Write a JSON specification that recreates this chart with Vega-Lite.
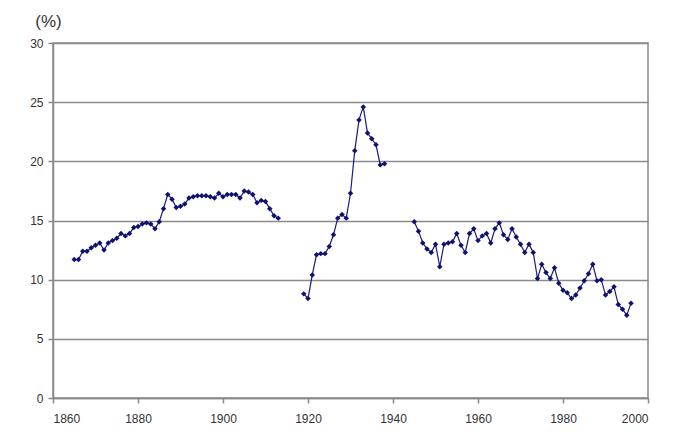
{
  "$schema": "https://vega.github.io/schema/vega-lite/v6.json",
  "autosize": {"type": "none"},
  "width": 595,
  "height": 355,
  "padding": {"left": 53, "top": 43, "right": 26, "bottom": 38},
  "background": "white",
  "config": {
    "view": {"stroke": "#8a8a8a", "strokeWidth": 1.5},
    "font": "Liberation Sans"
  },
  "datasets": {
    "d": [
      {"year":1865,"v":11.7,"seg":1},{"year":1866,"v":11.7,"seg":1},{"year":1867,"v":12.4,"seg":1},{"year":1868,"v":12.4,"seg":1},{"year":1869,"v":12.7,"seg":1},{"year":1870,"v":12.9,"seg":1},{"year":1871,"v":13.1,"seg":1},{"year":1872,"v":12.5,"seg":1},{"year":1873,"v":13.1,"seg":1},{"year":1874,"v":13.3,"seg":1},{"year":1875,"v":13.5,"seg":1},{"year":1876,"v":13.9,"seg":1},{"year":1877,"v":13.7,"seg":1},{"year":1878,"v":13.9,"seg":1},{"year":1879,"v":14.4,"seg":1},{"year":1880,"v":14.5,"seg":1},{"year":1881,"v":14.7,"seg":1},{"year":1882,"v":14.8,"seg":1},{"year":1883,"v":14.7,"seg":1},{"year":1884,"v":14.3,"seg":1},{"year":1885,"v":14.9,"seg":1},{"year":1886,"v":16.0,"seg":1},{"year":1887,"v":17.2,"seg":1},{"year":1888,"v":16.8,"seg":1},{"year":1889,"v":16.1,"seg":1},{"year":1890,"v":16.2,"seg":1},{"year":1891,"v":16.4,"seg":1},{"year":1892,"v":16.9,"seg":1},{"year":1893,"v":17.0,"seg":1},{"year":1894,"v":17.1,"seg":1},{"year":1895,"v":17.1,"seg":1},{"year":1896,"v":17.1,"seg":1},{"year":1897,"v":17.0,"seg":1},{"year":1898,"v":16.9,"seg":1},{"year":1899,"v":17.3,"seg":1},{"year":1900,"v":17.0,"seg":1},{"year":1901,"v":17.2,"seg":1},{"year":1902,"v":17.2,"seg":1},{"year":1903,"v":17.2,"seg":1},{"year":1904,"v":16.9,"seg":1},{"year":1905,"v":17.5,"seg":1},{"year":1906,"v":17.4,"seg":1},{"year":1907,"v":17.2,"seg":1},{"year":1908,"v":16.5,"seg":1},{"year":1909,"v":16.7,"seg":1},{"year":1910,"v":16.6,"seg":1},{"year":1911,"v":16.0,"seg":1},{"year":1912,"v":15.4,"seg":1},{"year":1913,"v":15.2,"seg":1},
      {"year":1919,"v":8.8,"seg":2},{"year":1920,"v":8.4,"seg":2},{"year":1921,"v":10.4,"seg":2},{"year":1922,"v":12.1,"seg":2},{"year":1923,"v":12.2,"seg":2},{"year":1924,"v":12.2,"seg":2},{"year":1925,"v":12.8,"seg":2},{"year":1926,"v":13.8,"seg":2},{"year":1927,"v":15.2,"seg":2},{"year":1928,"v":15.5,"seg":2},{"year":1929,"v":15.2,"seg":2},{"year":1930,"v":17.3,"seg":2},{"year":1931,"v":20.9,"seg":2},{"year":1932,"v":23.5,"seg":2},{"year":1933,"v":24.6,"seg":2},{"year":1934,"v":22.4,"seg":2},{"year":1935,"v":21.9,"seg":2},{"year":1936,"v":21.4,"seg":2},{"year":1937,"v":19.7,"seg":2},{"year":1938,"v":19.8,"seg":2},
      {"year":1945,"v":14.9,"seg":3},{"year":1946,"v":14.1,"seg":3},{"year":1947,"v":13.1,"seg":3},{"year":1948,"v":12.6,"seg":3},{"year":1949,"v":12.3,"seg":3},{"year":1950,"v":13.0,"seg":3},{"year":1951,"v":11.1,"seg":3},{"year":1952,"v":13.0,"seg":3},{"year":1953,"v":13.1,"seg":3},{"year":1954,"v":13.2,"seg":3},{"year":1955,"v":13.9,"seg":3},{"year":1956,"v":12.9,"seg":3},{"year":1957,"v":12.3,"seg":3},{"year":1958,"v":13.9,"seg":3},{"year":1959,"v":14.3,"seg":3},{"year":1960,"v":13.3,"seg":3},{"year":1961,"v":13.7,"seg":3},{"year":1962,"v":13.9,"seg":3},{"year":1963,"v":13.1,"seg":3},{"year":1964,"v":14.3,"seg":3},{"year":1965,"v":14.8,"seg":3},{"year":1966,"v":13.8,"seg":3},{"year":1967,"v":13.4,"seg":3},{"year":1968,"v":14.3,"seg":3},{"year":1969,"v":13.6,"seg":3},{"year":1970,"v":13.0,"seg":3},{"year":1971,"v":12.3,"seg":3},{"year":1972,"v":13.0,"seg":3},{"year":1973,"v":12.3,"seg":3},{"year":1974,"v":10.1,"seg":3},{"year":1975,"v":11.3,"seg":3},{"year":1976,"v":10.6,"seg":3},{"year":1977,"v":10.1,"seg":3},{"year":1978,"v":11.0,"seg":3},{"year":1979,"v":9.7,"seg":3},{"year":1980,"v":9.1,"seg":3},{"year":1981,"v":8.9,"seg":3},{"year":1982,"v":8.4,"seg":3},{"year":1983,"v":8.7,"seg":3},{"year":1984,"v":9.3,"seg":3},{"year":1985,"v":9.9,"seg":3},{"year":1986,"v":10.5,"seg":3},{"year":1987,"v":11.3,"seg":3},{"year":1988,"v":9.9,"seg":3},{"year":1989,"v":10.0,"seg":3},{"year":1990,"v":8.7,"seg":3},{"year":1991,"v":9.0,"seg":3},{"year":1992,"v":9.4,"seg":3},{"year":1993,"v":7.9,"seg":3},{"year":1994,"v":7.5,"seg":3},{"year":1995,"v":7.0,"seg":3},{"year":1996,"v":8.0,"seg":3}
    ]
  },
  "data": {"name": "d"},
  "encoding": {
    "x": {
      "field": "year", "type": "quantitative",
      "scale": {"domain": [1860, 2000], "nice": false, "zero": false},
      "axis": {
        "values": [1860, 1880, 1900, 1920, 1940, 1960, 1980, 2000],
        "format": "d", "title": null, "grid": false,
        "domainColor": "#8a8a8a", "domainWidth": 1.5,
        "tickColor": "#8a8a8a", "tickSize": 5, "tickWidth": 1.5,
        "labelFontSize": 12, "labelColor": "#333333", "labelPadding": 10
      }
    },
    "y": {
      "field": "v", "type": "quantitative",
      "scale": {"domain": [0, 30], "nice": false},
      "axis": {
        "values": [0, 5, 10, 15, 20, 25, 30],
        "title": "(%)", "titleAngle": 0, "titleAlign": "center", "titleBaseline": "middle",
        "titleX": -5, "titleY": -22, "titleFontSize": 17, "titleFontWeight": "normal", "titleColor": "#333333",
        "grid": true, "gridColor": "#8a8a8a", "gridWidth": 1.5,
        "domainColor": "#8a8a8a", "domainWidth": 1.5,
        "tickColor": "#8a8a8a", "tickSize": 5, "tickWidth": 1.5,
        "labelFontSize": 12, "labelColor": "#333333", "labelPadding": 5
      }
    }
  },
  "layer": [
    {
      "mark": {"type": "line", "color": "#1a1a80", "strokeWidth": 1.2},
      "encoding": {"detail": {"field": "seg", "type": "nominal"}}
    },
    {
      "mark": {"type": "point", "shape": "diamond", "filled": true, "color": "#10106e", "size": 30, "opacity": 1}
    }
  ]
}
